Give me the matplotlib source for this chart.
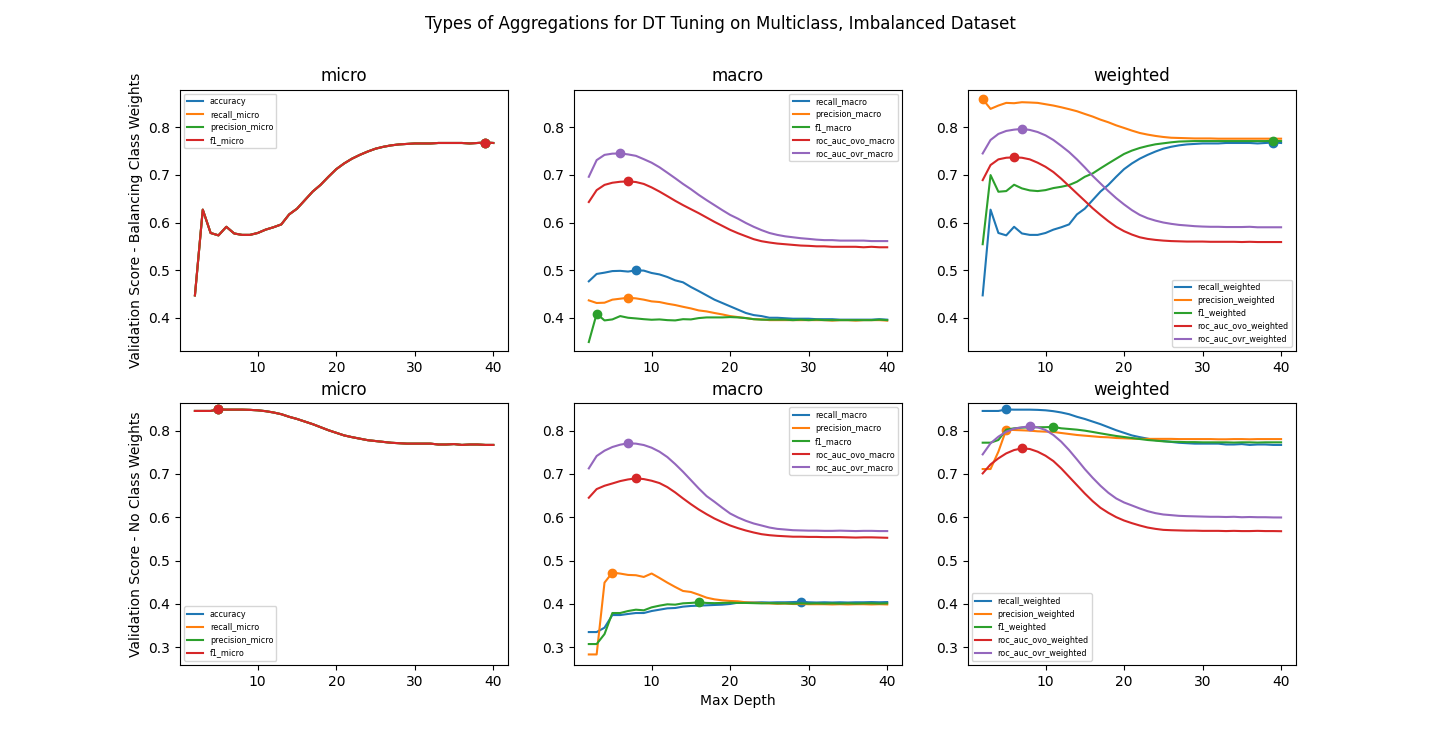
import matplotlib
matplotlib.use("Agg")
import matplotlib.pyplot as plt

max_depth = list(range(2, 41))

# ---- balancing class weights (top row) ----
# micro-averaged recall / precision / f1 all equal accuracy; recall_weighted too
acc_bal = [0.447, 0.627, 0.578, 0.573, 0.591, 0.577, 0.574, 0.574, 0.578, 0.585,
           0.590, 0.596, 0.617, 0.629, 0.647, 0.665, 0.679, 0.696, 0.712, 0.724,
           0.734, 0.742, 0.749, 0.755, 0.759, 0.762, 0.764, 0.765, 0.766, 0.766,
           0.766, 0.767, 0.767, 0.767, 0.767, 0.766, 0.767, 0.768, 0.767]

recall_macro_bal = [0.4765, 0.492, 0.4947, 0.498, 0.4985, 0.497, 0.4995, 0.499, 0.494, 0.491,
                    0.4856, 0.4786, 0.4744, 0.4646, 0.456, 0.447, 0.438, 0.431, 0.424, 0.417,
                    0.410, 0.4056, 0.4035, 0.400, 0.400, 0.399, 0.398, 0.398, 0.398, 0.397,
                    0.397, 0.397, 0.396, 0.396, 0.396, 0.396, 0.396, 0.397, 0.396]
precision_macro_bal = [0.4365, 0.431, 0.4316, 0.438, 0.440, 0.442, 0.4407, 0.438, 0.4344, 0.433,
                       0.4295, 0.4267, 0.423, 0.4196, 0.4154, 0.4133, 0.410, 0.407, 0.4035, 0.4014,
                       0.3993, 0.397, 0.3965, 0.395, 0.395, 0.395, 0.395, 0.395, 0.395, 0.395,
                       0.395, 0.394, 0.395, 0.395, 0.394, 0.395, 0.395, 0.395, 0.394]
f1_macro_bal = [0.349, 0.4084, 0.3944, 0.3965, 0.4035, 0.400, 0.3986, 0.397, 0.3958, 0.3965,
                0.395, 0.3944, 0.397, 0.3965, 0.3993, 0.4007, 0.4007, 0.4007, 0.4014, 0.4007,
                0.3993, 0.397, 0.396, 0.396, 0.396, 0.396, 0.395, 0.396, 0.395, 0.396,
                0.395, 0.395, 0.395, 0.395, 0.395, 0.395, 0.395, 0.396, 0.395]
roc_ovo_macro_bal = [0.643, 0.668, 0.679, 0.6835, 0.6856, 0.6863, 0.685, 0.681, 0.6737, 0.665,
                     0.6554, 0.6456, 0.6365, 0.628, 0.6196, 0.6105, 0.6014, 0.593, 0.5846, 0.5775,
                     0.5712, 0.565, 0.5607, 0.558, 0.5558, 0.5544, 0.553, 0.5516, 0.551, 0.550,
                     0.550, 0.549, 0.549, 0.549, 0.549, 0.548, 0.549, 0.548, 0.548]
roc_ovr_macro_bal = [0.696, 0.731, 0.742, 0.7446, 0.745, 0.743, 0.740, 0.733, 0.7256, 0.716,
                     0.7046, 0.693, 0.681, 0.670, 0.658, 0.647, 0.6365, 0.626, 0.616, 0.608,
                     0.599, 0.591, 0.584, 0.578, 0.574, 0.571, 0.569, 0.567, 0.5656, 0.564,
                     0.563, 0.563, 0.562, 0.562, 0.562, 0.562, 0.561, 0.561, 0.561]

precision_weighted_bal = [0.859, 0.8386, 0.8456, 0.8512, 0.8505, 0.8526, 0.852, 0.8512, 0.8484, 0.8456,
                          0.842, 0.838, 0.8337, 0.828, 0.8225, 0.816, 0.8105, 0.804, 0.7986, 0.793,
                          0.788, 0.7846, 0.7818, 0.7796, 0.778, 0.7775, 0.777, 0.7765, 0.7765, 0.7765,
                          0.776, 0.776, 0.776, 0.776, 0.776, 0.776, 0.776, 0.776, 0.776]
f1_weighted_bal = [0.5544, 0.6996, 0.6646, 0.666, 0.6793, 0.6716, 0.6674, 0.666, 0.668, 0.6723,
                   0.675, 0.6786, 0.6856, 0.696, 0.703, 0.7137, 0.724, 0.734, 0.7439, 0.751,
                   0.7565, 0.7607, 0.7642, 0.7663, 0.7684, 0.770, 0.7705, 0.771, 0.771, 0.771,
                   0.771, 0.771, 0.771, 0.771, 0.771, 0.771, 0.771, 0.7715, 0.771]
roc_ovo_weighted_bal = [0.689, 0.7207, 0.7326, 0.736, 0.7368, 0.736, 0.7326, 0.7256, 0.717, 0.706,
                        0.692, 0.6765, 0.661, 0.6456, 0.630, 0.616, 0.6028, 0.591, 0.5818, 0.5747,
                        0.569, 0.5656, 0.5635, 0.562, 0.561, 0.5605, 0.560, 0.560, 0.560, 0.5595,
                        0.5595, 0.5595, 0.5595, 0.559, 0.5595, 0.559, 0.559, 0.559, 0.559]
roc_ovr_weighted_bal = [0.745, 0.7733, 0.786, 0.7923, 0.795, 0.7965, 0.7944, 0.790, 0.783, 0.7733,
                        0.761, 0.748, 0.7326, 0.7158, 0.698, 0.682, 0.666, 0.6512, 0.638, 0.626,
                        0.616, 0.609, 0.604, 0.600, 0.5972, 0.595, 0.5937, 0.5923, 0.5915, 0.591,
                        0.591, 0.5905, 0.5905, 0.5905, 0.591, 0.590, 0.590, 0.590, 0.590]

# ---- no class weights (bottom row) ----
acc_none = [0.8455, 0.8455, 0.8455, 0.849, 0.8485, 0.8485, 0.8485, 0.848, 0.847, 0.845,
            0.842, 0.838, 0.832, 0.827, 0.821, 0.815, 0.808, 0.801, 0.795, 0.789,
            0.785, 0.7815, 0.778, 0.776, 0.774, 0.772, 0.771, 0.770, 0.770, 0.770,
            0.770, 0.768, 0.768, 0.769, 0.767, 0.768, 0.768, 0.767, 0.767]

recall_macro_none = [0.3347, 0.3347, 0.3448, 0.374, 0.374, 0.3765, 0.3787, 0.3787, 0.3833, 0.3864,
                     0.3895, 0.3903, 0.3934, 0.395, 0.3957, 0.3965, 0.3973, 0.398, 0.3996, 0.4026,
                     0.403, 0.403, 0.4035, 0.403, 0.4035, 0.4035, 0.404, 0.4049, 0.4035, 0.403,
                     0.4035, 0.403, 0.4035, 0.403, 0.4035, 0.4035, 0.404, 0.4035, 0.404]
precision_macro_none = [0.283, 0.283, 0.4489, 0.4721, 0.4698, 0.4667, 0.466, 0.462, 0.470, 0.4597,
                        0.4489, 0.4389, 0.4296, 0.4273, 0.4211, 0.4142, 0.4103, 0.408, 0.4065, 0.4057,
                        0.4034, 0.4026, 0.4019, 0.401, 0.400, 0.4005, 0.3995, 0.3995, 0.399, 0.399,
                        0.399, 0.3985, 0.399, 0.3985, 0.399, 0.399, 0.3985, 0.399, 0.3985]
f1_macro_none = [0.307, 0.307, 0.330, 0.3787, 0.3787, 0.3833, 0.3864, 0.3849, 0.3918, 0.3957,
                 0.3988, 0.398, 0.4011, 0.402, 0.4035, 0.402, 0.4015, 0.402, 0.4025, 0.402,
                 0.402, 0.4015, 0.401, 0.4015, 0.401, 0.401, 0.4005, 0.401, 0.4005, 0.401,
                 0.4005, 0.401, 0.4005, 0.401, 0.4005, 0.401, 0.401, 0.4005, 0.401]
roc_ovo_macro_none = [0.645, 0.665, 0.6727, 0.678, 0.6835, 0.6873, 0.6897, 0.6881, 0.6843, 0.6789,
                      0.6696, 0.6573, 0.6434, 0.6302, 0.6179, 0.607, 0.597, 0.5886, 0.5809, 0.5747,
                      0.5693, 0.5647, 0.5608, 0.5585, 0.557, 0.556, 0.555, 0.555, 0.5545, 0.5545,
                      0.554, 0.554, 0.554, 0.5535, 0.553, 0.5535, 0.5535, 0.553, 0.5525]
roc_ovr_macro_none = [0.7128, 0.7414, 0.7537, 0.7622, 0.7676, 0.7707, 0.7700, 0.7668, 0.7606, 0.7514,
                      0.739, 0.7228, 0.705, 0.6858, 0.6665, 0.6488, 0.6357, 0.6218, 0.6086, 0.5994,
                      0.5917, 0.5855, 0.5809, 0.5762, 0.5731, 0.5716, 0.570, 0.5695, 0.569, 0.569,
                      0.5685, 0.5685, 0.569, 0.5685, 0.568, 0.5685, 0.5685, 0.568, 0.568]

precision_weighted_none = [0.7113, 0.7113, 0.7514, 0.8023, 0.8015, 0.8008, 0.800, 0.7985, 0.7977, 0.797,
                           0.7946, 0.7923, 0.790, 0.7884, 0.7869, 0.7853, 0.7846, 0.783, 0.7823, 0.7815,
                           0.781, 0.781, 0.781, 0.781, 0.781, 0.7805, 0.7805, 0.7805, 0.7805, 0.7805,
                           0.780, 0.780, 0.7805, 0.7805, 0.780, 0.7805, 0.7805, 0.7805, 0.7805]
f1_weighted_none = [0.7722, 0.7722, 0.7784, 0.8023, 0.8054, 0.807, 0.8075, 0.8078, 0.808, 0.8087,
                    0.8054, 0.8039, 0.8023, 0.800, 0.797, 0.7938, 0.7907, 0.7877, 0.7853, 0.783,
                    0.7807, 0.7784, 0.7769, 0.7753, 0.7745, 0.774, 0.7735, 0.7735, 0.773, 0.773,
                    0.773, 0.773, 0.7725, 0.773, 0.773, 0.7725, 0.773, 0.773, 0.773]
roc_ovo_weighted_none = [0.7012, 0.722, 0.736, 0.7475, 0.7552, 0.7591, 0.7576, 0.7514, 0.7421, 0.7298,
                         0.7128, 0.6935, 0.6742, 0.6549, 0.6372, 0.6218, 0.6102, 0.6002, 0.5924, 0.5863,
                         0.5809, 0.5762, 0.5731, 0.5708, 0.570, 0.5695, 0.569, 0.569, 0.5685, 0.5685,
                         0.5685, 0.568, 0.5685, 0.568, 0.568, 0.5685, 0.568, 0.568, 0.5677]
roc_ovr_weighted_none = [0.7452, 0.7707, 0.7861, 0.7977, 0.8046, 0.8077, 0.810, 0.8077, 0.8015, 0.790,
                         0.7745, 0.7552, 0.7336, 0.7113, 0.6912, 0.6727, 0.6565, 0.6434, 0.6341, 0.6272,
                         0.6202, 0.614, 0.6094, 0.6063, 0.6048, 0.6032, 0.6025, 0.602, 0.6015, 0.601,
                         0.601, 0.6005, 0.601, 0.600, 0.6005, 0.600, 0.600, 0.5995, 0.5994]

micro_labels = ["accuracy", "recall_micro", "precision_micro", "f1_micro"]
macro_labels = ["recall_macro", "precision_macro", "f1_macro", "roc_auc_ovo_macro", "roc_auc_ovr_macro"]
weighted_labels = ["recall_weighted", "precision_weighted", "f1_weighted",
                   "roc_auc_ovo_weighted", "roc_auc_ovr_weighted"]

row_labels = ["Validation Score - Balancing Class Weights", "Validation Score - No Class Weights"]
row_ylims = [(0.330, 0.879), (0.259, 0.863)]


def plot_panel(ax, title, labels, series, legend_loc):
    for i, (label, ys) in enumerate(zip(labels, series)):
        color = f"C{i}"
        ax.plot(max_depth, ys, color=color, label=label)
        best = max(range(len(ys)), key=lambda k: ys[k])
        ax.plot(max_depth[best], ys[best], "o", color=color)
    ax.set_title(title)
    ax.legend(loc=legend_loc, fontsize="xx-small")


fig, axes = plt.subplots(2, 3, figsize=(14.4, 7.47), dpi=100)

panels = [
    [
        ("micro", micro_labels, [acc_bal, acc_bal, acc_bal, acc_bal], "upper left"),
        ("macro", macro_labels, [recall_macro_bal, precision_macro_bal, f1_macro_bal,
                                 roc_ovo_macro_bal, roc_ovr_macro_bal], "upper right"),
        ("weighted", weighted_labels, [acc_bal, precision_weighted_bal, f1_weighted_bal,
                                       roc_ovo_weighted_bal, roc_ovr_weighted_bal], "lower right"),
    ],
    [
        ("micro", micro_labels, [acc_none, acc_none, acc_none, acc_none], "lower left"),
        ("macro", macro_labels, [recall_macro_none, precision_macro_none, f1_macro_none,
                                 roc_ovo_macro_none, roc_ovr_macro_none], "upper right"),
        ("weighted", weighted_labels, [acc_none, precision_weighted_none, f1_weighted_none,
                                       roc_ovo_weighted_none, roc_ovr_weighted_none], "lower left"),
    ],
]

for r in range(2):
    for c in range(3):
        title, labels, series, loc = panels[r][c]
        plot_panel(axes[r, c], title, labels, series, loc)
        axes[r, c].set_ylim(*row_ylims[r])
    axes[r, 0].set_ylabel(row_labels[r])

axes[1, 1].set_xlabel("Max Depth")
fig.suptitle("Types of Aggregations for DT Tuning on Multiclass, Imbalanced Dataset")

fig.savefig("out.png", dpi=100)
